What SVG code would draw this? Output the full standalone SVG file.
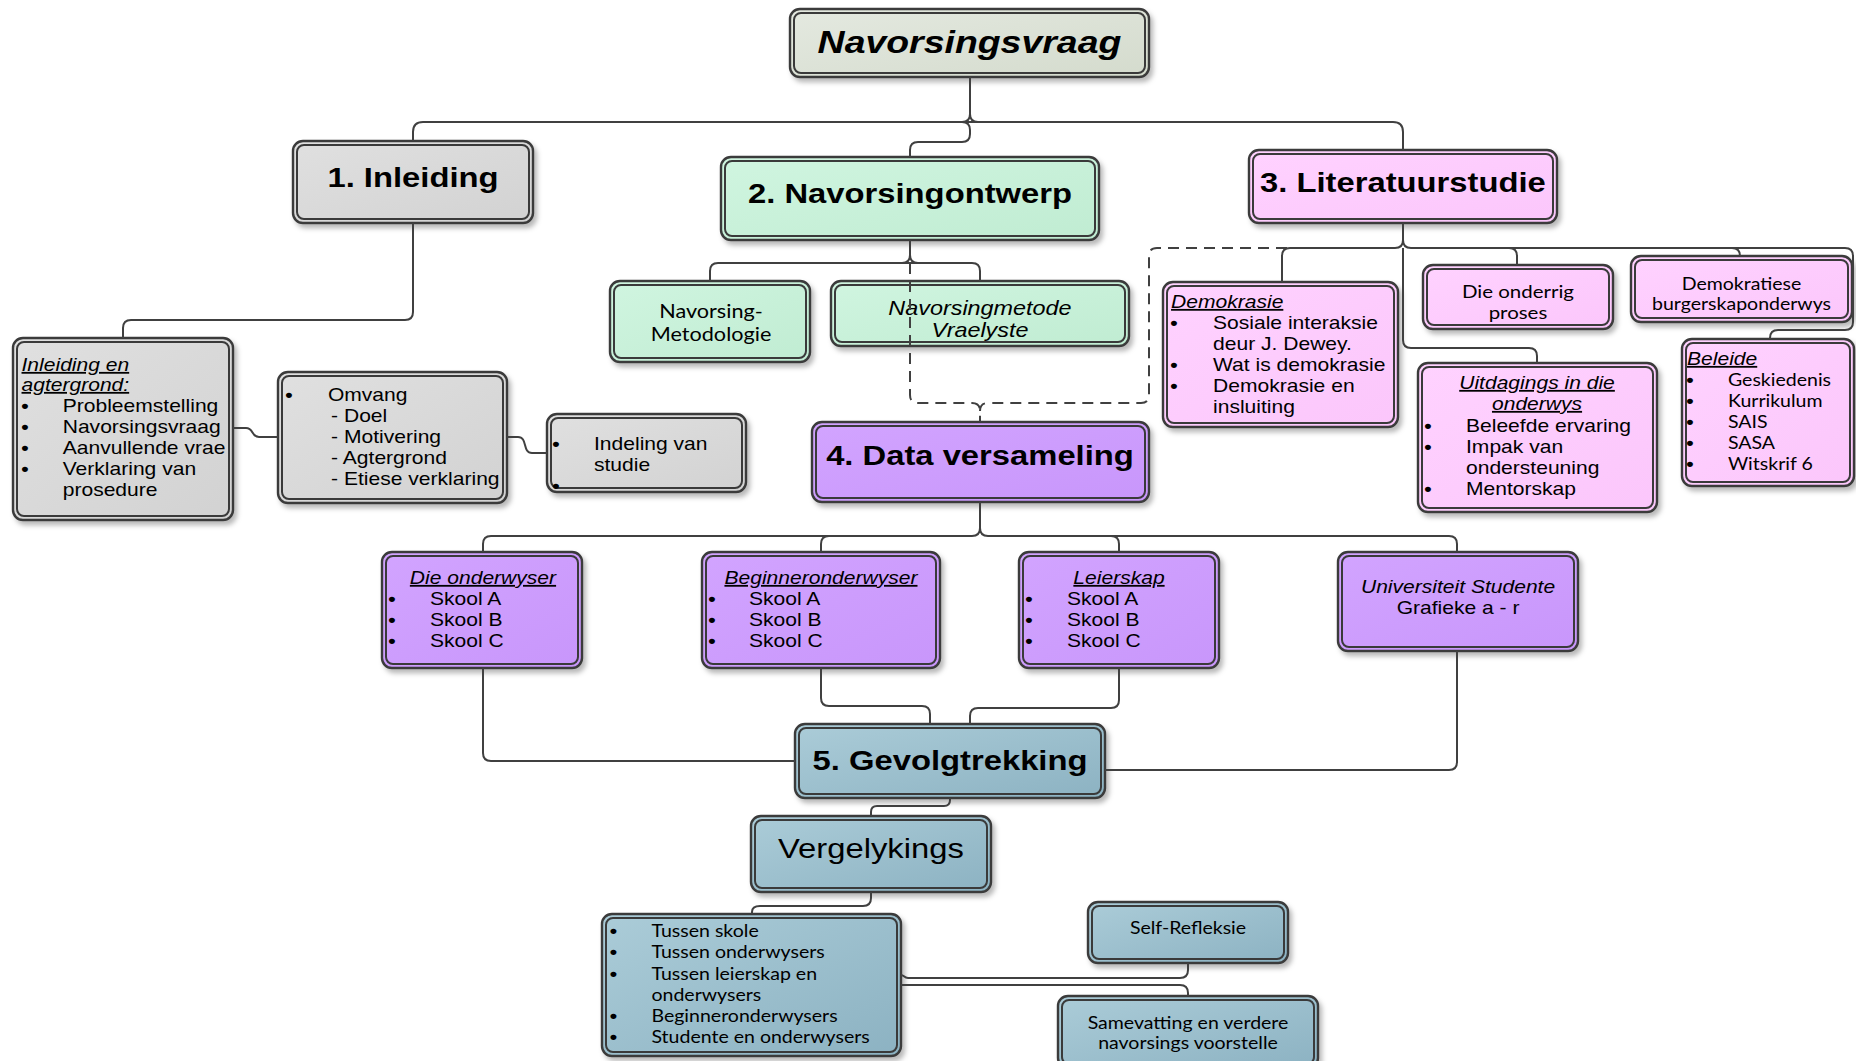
<svg xmlns="http://www.w3.org/2000/svg" width="1856" height="1061" viewBox="0 0 1856 1061">
<defs>
<filter id="sh" x="-10%" y="-10%" width="130%" height="140%"><feDropShadow dx="3" dy="4" stdDeviation="2.5" flood-color="#000" flood-opacity="0.28"/></filter>
<linearGradient id="gNav" x1="0" y1="0" x2="1" y2="1"><stop offset="0" stop-color="#e4e9e0"/><stop offset="1" stop-color="#d4dbcd"/></linearGradient>
<linearGradient id="gGrey" x1="0" y1="0" x2="1" y2="1"><stop offset="0" stop-color="#e0e0e0"/><stop offset="1" stop-color="#d2d2d2"/></linearGradient>
<linearGradient id="gGreen" x1="0" y1="0" x2="1" y2="1"><stop offset="0" stop-color="#d0f5e0"/><stop offset="1" stop-color="#c0ecd2"/></linearGradient>
<linearGradient id="gPink" x1="0" y1="0" x2="1" y2="1"><stop offset="0" stop-color="#ffd2ff"/><stop offset="1" stop-color="#fbc6fb"/></linearGradient>
<linearGradient id="gPurple" x1="0" y1="0" x2="1" y2="1"><stop offset="0" stop-color="#d2a4ff"/><stop offset="1" stop-color="#c896fb"/></linearGradient>
<linearGradient id="gTeal" x1="0" y1="0" x2="1" y2="1"><stop offset="0" stop-color="#abccd8"/><stop offset="1" stop-color="#8cb2c2"/></linearGradient>
</defs>
<style>
.bo{stroke:#3a3a3a;stroke-width:2.4;filter:url(#sh)}
.bi{fill:none;stroke:#3a3a3a;stroke-width:2}
.c{fill:none;stroke:#404040;stroke-width:2}
.d{fill:none;stroke:#404040;stroke-width:2;stroke-dasharray:11 7}
text{font-family:"Liberation Sans",Arial,sans-serif;fill:#000}
.h{font-size:28px;font-weight:bold;text-anchor:middle}
.b{font-size:18px}
.bl{font-size:18px;font-weight:bold;text-anchor:middle}
.i{font-style:italic}
.u{text-decoration:underline}
.m{text-anchor:middle}
.cal{font-family:Lato,"Liberation Sans",sans-serif;font-size:16.7px}
</style>
<rect width="1856" height="1061" fill="#fff"/>

<g id="n-navorsingsvraag">
<rect class="bo" x="790" y="9" width="359" height="68" rx="10" fill="url(#gNav)"/><rect class="bi" x="794" y="13" width="351" height="60" rx="7"/>
<g transform="scale(1.17 1)"><text x="828.6" y="53" style="font-size:32px;font-weight:bold;font-style:italic;text-anchor:middle">Navorsingsvraag</text></g>
</g>

<g id="n-inleiding">
<rect class="bo" x="293" y="141" width="240" height="82" rx="10" fill="url(#gGrey)"/><rect class="bi" x="297" y="145" width="232" height="74" rx="7"/>
<g transform="scale(1.17 1)"><text class="h" x="353.0" y="187">1. Inleiding</text></g>
</g>

<g id="n-navorsingontwerp">
<rect class="bo" x="721" y="157" width="378" height="83" rx="10" fill="url(#gGreen)"/><rect class="bi" x="725" y="161" width="370" height="75" rx="7"/>
<g transform="scale(1.17 1)"><text class="h" x="777.8" y="203">2. Navorsingontwerp</text></g>
</g>

<g id="n-literatuurstudie">
<rect class="bo" x="1249" y="150" width="308" height="73" rx="10" fill="url(#gPink)"/><rect class="bi" x="1253" y="154" width="300" height="65" rx="7"/>
<g transform="scale(1.17 1)"><text class="h" x="1199.1" y="192">3. Literatuurstudie</text></g>
</g>

<g id="n-inleiding-agtergrond">
<rect class="bo" x="13" y="338" width="220" height="182" rx="10" fill="url(#gGrey)"/><rect class="bi" x="17" y="342" width="212" height="174" rx="7"/>
<g transform="scale(1.17 1)">
<text class="b i u" x="18.4" y="371">Inleiding en</text>
<text class="b i u" x="18.4" y="391">agtergrond:</text>
<text class="bl" x="21.4" y="412">•</text><text class="b" x="53.6" y="412">Probleemstelling</text>
<text class="bl" x="21.4" y="433">•</text><text class="b" x="53.6" y="433">Navorsingsvraag</text>
<text class="bl" x="21.4" y="454">•</text><text class="b" x="53.6" y="454">Aanvullende vrae</text>
<text class="bl" x="21.4" y="475">•</text><text class="b" x="53.6" y="475">Verklaring van</text>
<text class="b" x="53.6" y="496">prosedure</text>
</g>
</g>

<g id="n-omvang">
<rect class="bo" x="278" y="372" width="229" height="131" rx="10" fill="url(#gGrey)"/><rect class="bi" x="282" y="376" width="221" height="123" rx="7"/>
<g transform="scale(1.17 1)">
<text class="bl" x="247.0" y="401">•</text><text class="b" x="280.3" y="401">Omvang</text>
<text class="b" x="283.0" y="422">- Doel</text>
<text class="b" x="283.0" y="443">- Motivering</text>
<text class="b" x="283.0" y="464">- Agtergrond</text>
<text class="b" x="283.0" y="485">- Etiese verklaring</text>
</g>
</g>

<g id="n-indeling">
<rect class="bo" x="547" y="414" width="199" height="78" rx="10" fill="url(#gGrey)"/><rect class="bi" x="551" y="418" width="191" height="70" rx="7"/>
<g transform="scale(1.17 1)">
<text class="bl" x="475.2" y="450">•</text><text class="b" x="507.7" y="450">Indeling van</text>
<text class="b" x="507.7" y="471">studie</text>
<text class="bl" x="475.2" y="492">•</text>
</g>
</g>

<g id="n-metodologie">
<rect class="bo" x="610" y="281" width="200" height="81" rx="10" fill="url(#gGreen)"/><rect class="bi" x="614" y="285" width="192" height="73" rx="7"/>
<g transform="scale(1.17 1)">
<text class="cal m" x="607.7" y="318" style="font-size:18.5px">Navorsing-</text>
<text class="cal m" x="607.7" y="341" style="font-size:18.5px">Metodologie</text>
</g>
</g>

<g id="n-navorsingmetode">
<rect class="bo" x="831" y="281" width="298" height="65" rx="10" fill="url(#gGreen)"/><rect class="bi" x="835" y="285" width="290" height="57" rx="7"/>
<g transform="scale(1.17 1)">
<text class="i m" x="837.6" y="315" style="font-size:20px">Navorsingmetode</text>
<text class="i m" x="837.6" y="337" style="font-size:20px">Vraelyste</text>
</g>
</g>

<g id="n-demokrasie">
<rect class="bo" x="1163" y="282" width="235" height="145" rx="10" fill="url(#gPink)"/><rect class="bi" x="1167" y="286" width="227" height="137" rx="7"/>
<g transform="scale(1.17 1)">
<text class="b i u" x="1000.9" y="308">Demokrasie</text>
<text class="bl" x="1003.4" y="329">•</text><text class="b" x="1036.8" y="329">Sosiale interaksie</text>
<text class="b" x="1036.8" y="350">deur J. Dewey.</text>
<text class="bl" x="1003.4" y="371">•</text><text class="b" x="1036.8" y="371">Wat is demokrasie</text>
<text class="bl" x="1003.4" y="392">•</text><text class="b" x="1036.8" y="392">Demokrasie en</text>
<text class="b" x="1036.8" y="413">insluiting</text>
</g>
</g>

<g id="n-onderrig">
<rect class="bo" x="1423" y="265" width="190" height="64" rx="10" fill="url(#gPink)"/><rect class="bi" x="1427" y="269" width="182" height="56" rx="7"/>
<g transform="scale(1.17 1)">
<text class="cal m" x="1297.4" y="298" style="font-size:17.5px">Die onderrig</text>
<text class="cal m" x="1297.4" y="319" style="font-size:17.5px">proses</text>
</g>
</g>

<g id="n-burgerskap">
<rect class="bo" x="1631" y="256" width="221" height="66" rx="10" fill="url(#gPink)"/><rect class="bi" x="1635" y="260" width="213" height="58" rx="7"/>
<g transform="scale(1.17 1)">
<text class="cal m" x="1488.5" y="290">Demokratiese</text>
<text class="cal m" x="1488.5" y="310">burgerskaponderwys</text>
</g>
</g>

<g id="n-uitdagings">
<rect class="bo" x="1418" y="363" width="239" height="149" rx="10" fill="url(#gPink)"/><rect class="bi" x="1422" y="367" width="231" height="141" rx="7"/>
<g transform="scale(1.17 1)">
<text class="b i u m" x="1313.7" y="389">Uitdagings in die</text>
<text class="b i u m" x="1313.7" y="410">onderwys</text>
<text class="bl" x="1220.5" y="432">•</text><text class="b" x="1253.0" y="432">Beleefde ervaring</text>
<text class="bl" x="1220.5" y="453">•</text><text class="b" x="1253.0" y="453">Impak van</text>
<text class="b" x="1253.0" y="474">ondersteuning</text>
<text class="bl" x="1220.5" y="495">•</text><text class="b" x="1253.0" y="495">Mentorskap</text>
</g>
</g>

<g id="n-beleide">
<rect class="bo" x="1682" y="339" width="172" height="147" rx="10" fill="url(#gPink)"/><rect class="bi" x="1686" y="343" width="164" height="139" rx="7"/>
<g transform="scale(1.17 1)">
<text class="b i u" x="1441.9" y="365">Beleide</text>
<text class="bl" x="1444.4" y="386">•</text><text class="cal" x="1476.9" y="386">Geskiedenis</text>
<text class="bl" x="1444.4" y="407">•</text><text class="cal" x="1476.9" y="407">Kurrikulum</text>
<text class="bl" x="1444.4" y="428">•</text><text class="cal" x="1476.9" y="428">SAIS</text>
<text class="bl" x="1444.4" y="449">•</text><text class="cal" x="1476.9" y="449">SASA</text>
<text class="bl" x="1444.4" y="470">•</text><text class="cal" x="1476.9" y="470">Witskrif 6</text>
</g>
</g>

<g id="n-data">
<rect class="bo" x="812" y="422" width="337" height="80" rx="10" fill="url(#gPurple)"/><rect class="bi" x="816" y="426" width="329" height="72" rx="7"/>
<g transform="scale(1.17 1)"><text class="h" x="837.6" y="465">4. Data versameling</text></g>
</g>

<g id="n-onderwyser">
<rect class="bo" x="382" y="552" width="200" height="116" rx="10" fill="url(#gPurple)"/><rect class="bi" x="386" y="556" width="192" height="108" rx="7"/>
<g transform="scale(1.17 1)">
<text class="b i u m" x="412.8" y="584">Die onderwyser</text>
<text class="bl" x="335.0" y="605">•</text><text class="b" x="367.5" y="605">Skool A</text>
<text class="bl" x="335.0" y="626">•</text><text class="b" x="367.5" y="626">Skool B</text>
<text class="bl" x="335.0" y="647">•</text><text class="b" x="367.5" y="647">Skool C</text>
</g>
</g>

<g id="n-beginner">
<rect class="bo" x="702" y="552" width="238" height="116" rx="10" fill="url(#gPurple)"/><rect class="bi" x="706" y="556" width="230" height="108" rx="7"/>
<g transform="scale(1.17 1)">
<text class="b i u m" x="701.7" y="584">Beginneronderwyser</text>
<text class="bl" x="608.5" y="605">•</text><text class="b" x="640.2" y="605">Skool A</text>
<text class="bl" x="608.5" y="626">•</text><text class="b" x="640.2" y="626">Skool B</text>
<text class="bl" x="608.5" y="647">•</text><text class="b" x="640.2" y="647">Skool C</text>
</g>
</g>

<g id="n-leierskap">
<rect class="bo" x="1019" y="552" width="200" height="116" rx="10" fill="url(#gPurple)"/><rect class="bi" x="1023" y="556" width="192" height="108" rx="7"/>
<g transform="scale(1.17 1)">
<text class="b i u m" x="956.4" y="584">Leierskap</text>
<text class="bl" x="879.5" y="605">•</text><text class="b" x="912.0" y="605">Skool A</text>
<text class="bl" x="879.5" y="626">•</text><text class="b" x="912.0" y="626">Skool B</text>
<text class="bl" x="879.5" y="647">•</text><text class="b" x="912.0" y="647">Skool C</text>
</g>
</g>

<g id="n-universiteit">
<rect class="bo" x="1338" y="552" width="240" height="99" rx="10" fill="url(#gPurple)"/><rect class="bi" x="1342" y="556" width="232" height="91" rx="7"/>
<g transform="scale(1.17 1)">
<text class="b i m" x="1246.2" y="593">Universiteit Studente</text>
<text class="b m" x="1246.2" y="614">Grafieke a - r</text>
</g>
</g>

<g id="n-gevolgtrekking">
<rect class="bo" x="795" y="724" width="310" height="74" rx="10" fill="url(#gTeal)"/><rect class="bi" x="799" y="728" width="302" height="66" rx="7"/>
<g transform="scale(1.17 1)"><text class="h" x="812.0" y="770">5. Gevolgtrekking</text></g>
</g>

<g id="n-vergelykings">
<rect class="bo" x="751" y="816" width="240" height="76" rx="10" fill="url(#gTeal)"/><rect class="bi" x="755" y="820" width="232" height="68" rx="7"/>
<g transform="scale(1.17 1)"><text class="m" x="744.4" y="858" style="font-size:28px">Vergelykings</text></g>
</g>

<g id="n-tussen">
<rect class="bo" x="602" y="914" width="299" height="142" rx="10" fill="url(#gTeal)"/><rect class="bi" x="606" y="918" width="291" height="134" rx="7"/>
<g transform="scale(1.17 1)">
<text class="bl" x="524.4" y="937">•</text><text class="cal" x="556.8" y="937">Tussen skole</text>
<text class="bl" x="524.4" y="958">•</text><text class="cal" x="556.8" y="958">Tussen onderwysers</text>
<text class="bl" x="524.4" y="980">•</text><text class="cal" x="556.8" y="980">Tussen leierskap en</text>
<text class="cal" x="556.8" y="1001">onderwysers</text>
<text class="bl" x="524.4" y="1022">•</text><text class="cal" x="556.8" y="1022">Beginneronderwysers</text>
<text class="bl" x="524.4" y="1043">•</text><text class="cal" x="556.8" y="1043">Studente en onderwysers</text>
</g>
</g>

<g id="n-selfrefleksie">
<rect class="bo" x="1088" y="902" width="200" height="61" rx="10" fill="url(#gTeal)"/><rect class="bi" x="1092" y="906" width="192" height="53" rx="7"/>
<g transform="scale(1.17 1)"><text class="cal m" x="1015.4" y="934">Self-Refleksie</text></g>
</g>

<g id="n-samevatting">
<rect class="bo" x="1058" y="996" width="260" height="72" rx="10" fill="url(#gTeal)"/><rect class="bi" x="1062" y="1000" width="252" height="64" rx="7"/>
<g transform="scale(1.17 1)">
<text class="cal m" x="1015.4" y="1029">Samevatting en verdere</text>
<text class="cal m" x="1015.4" y="1049">navorsings voorstelle</text>
</g>
</g>

<g id="connectors">
<path class="c" d="M413,141 V132 Q413,122 423,122 H1393 Q1403,122 1403,132 V150"/>
<path class="c" d="M970,77 V114 Q970,122 962,122 M970,114 Q970,122 978,122"/>
<path class="c" d="M962,122 Q970,122 970,130 V134 Q970,142 962,142 H918 Q910,142 910,150 V157"/>
<path class="c" d="M413,223 V312 Q413,320 405,320 H131 Q123,320 123,328 V338"/>
<path class="c" d="M233,428 H246 C254,428 251,437 259,437 H278"/>
<path class="c" d="M507,437 H518 C528,437 522,453 532,453 H547"/>
<path class="c" d="M910,240 V255 Q910,263 902,263 M910,255 Q910,263 918,263"/>
<path class="c" d="M710,281 V271 Q710,263 718,263 H972 Q980,263 980,271 V281"/>
<path class="c" d="M1403,223 V240 Q1403,248 1395,248 M1403,240 Q1403,248 1411,248"/>
<path class="c" d="M1282,282 V256 Q1282,248 1290,248 H1395"/>
<path class="c" d="M1411,248 H1845 Q1853,248 1853,256 V322 Q1853,330 1845,330 H1778 Q1770,330 1770,338 V339"/>
<path class="c" d="M1509,248 Q1517,248 1517,256 V265"/>
<path class="c" d="M1732,248 Q1740,248 1740,256"/>
<path class="c" d="M1403,248 V340 Q1403,348 1411,348 H1529 Q1537,348 1537,356 V363"/>
<path class="c" d="M980,502 V528 Q980,536 972,536 H491 Q483,536 483,544 V552 M980,528 Q980,536 988,536 H1449 Q1457,536 1457,544 V552"/>
<path class="c" d="M821,552 V544 Q821,536 829,536"/>
<path class="c" d="M1119,552 V544 Q1119,536 1111,536"/>
<path class="c" d="M483,668 V753 Q483,761 491,761 H795"/>
<path class="c" d="M821,668 V698 Q821,706 829,706 H922 Q930,706 930,714 V724"/>
<path class="c" d="M1119,668 V700 Q1119,708 1111,708 H978 Q970,708 970,716 V724"/>
<path class="c" d="M1457,651 V762 Q1457,770 1449,770 H1105"/>
<path class="c" d="M950,798 V800 Q950,806 944,806 H877 Q871,806 871,812 V816"/>
<path class="c" d="M871,892 V898 Q871,906 863,906 H760 Q752,906 752,912 V914"/>
<path class="c" d="M901,975 C904,975 904,978 908,978 H1180 Q1188,978 1188,970 V963"/>
<path class="c" d="M901,985 H1180 Q1188,985 1188,993 V996"/>
<path class="d" d="M910,263 V395 Q910,403 918,403 H972 Q980,403 980,411 V422"/>
<path class="d" d="M1395,248 H1157 Q1149,248 1149,256 V395 Q1149,403 1141,403 H988 Q980,403 980,411"/>
</g>
</svg>
